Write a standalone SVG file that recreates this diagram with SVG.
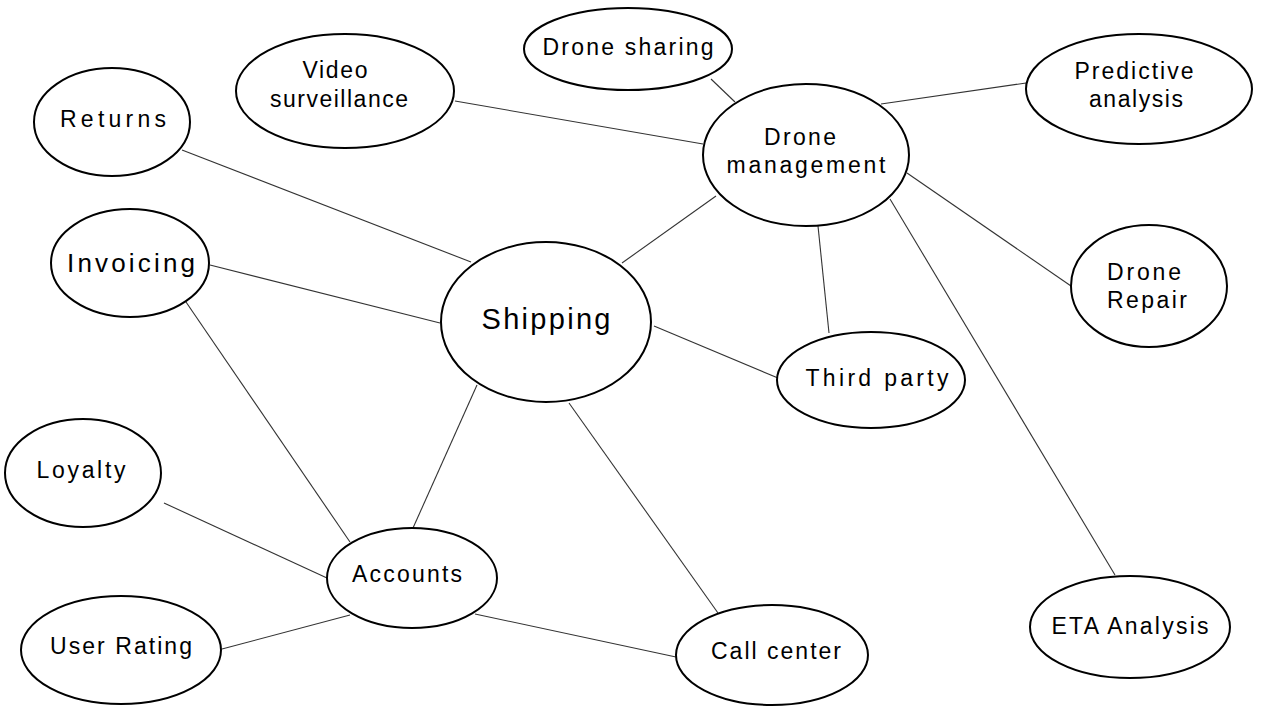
<svg xmlns="http://www.w3.org/2000/svg" width="1280" height="708" viewBox="0 0 1280 708">
<style>
.n{fill:#fff;stroke:#000;stroke-width:2}
.c line{stroke:#333;stroke-width:1.1}
text{font-family:"Liberation Sans","Open Sans",sans-serif;font-size:23px;fill:#000;text-anchor:middle}
.big{font-size:29px}
.mid{font-size:26px}
</style>
<rect width="1280" height="708" fill="#fff"/>
<g id="connectors" class="c">
<line x1="182" y1="150" x2="471" y2="262"/>
<line x1="210" y1="265" x2="440" y2="323"/>
<line x1="186" y1="302" x2="350" y2="542"/>
<line x1="455" y1="101" x2="703" y2="144"/>
<line x1="711" y1="79" x2="735" y2="102"/>
<line x1="881" y1="104" x2="1026" y2="83"/>
<line x1="907" y1="173" x2="1071" y2="286"/>
<line x1="716" y1="196" x2="622" y2="263"/>
<line x1="818" y1="226" x2="829" y2="333"/>
<line x1="890" y1="199" x2="1115" y2="575"/>
<line x1="654" y1="326" x2="778" y2="378"/>
<line x1="477" y1="385" x2="413" y2="528"/>
<line x1="569" y1="403" x2="718" y2="613"/>
<line x1="164" y1="503" x2="327" y2="578"/>
<line x1="222" y1="649" x2="350" y2="615"/>
<line x1="475" y1="614" x2="676" y2="657"/>
</g>
<g id="returns"><ellipse class="n" cx="112" cy="122" rx="78" ry="54"/><text x="113" y="127" textLength="106">Returns</text></g>
<g id="video-surveillance"><ellipse class="n" cx="345" cy="91" rx="109" ry="57"/><text x="335" y="78" textLength="65">Video</text><text x="339" y="107" textLength="138">surveillance</text></g>
<g id="drone-sharing"><ellipse class="n" cx="628" cy="49" rx="104" ry="41"/><text x="628" y="55" textLength="171">Drone sharing</text></g>
<g id="drone-management"><ellipse class="n" cx="806" cy="155" rx="103" ry="71"/><text x="800" y="145" textLength="72">Drone</text><text x="806" y="173" textLength="159">management</text></g>
<g id="predictive-analysis"><ellipse class="n" cx="1139" cy="89" rx="113" ry="55"/><text x="1134" y="79" textLength="119">Predictive</text><text x="1136" y="107" textLength="94">analysis</text></g>
<g id="invoicing"><ellipse class="n" cx="130" cy="263" rx="79" ry="54"/><text class="mid" x="131" y="272" textLength="128">Invoicing</text></g>
<g id="shipping"><ellipse class="n" cx="546" cy="322" rx="105" ry="80"/><text class="big" x="546" y="329" textLength="129">Shipping</text></g>
<g id="drone-repair"><ellipse class="n" cx="1149" cy="286" rx="78" ry="61"/><text x="1144" y="280" textLength="74">Drone</text><text x="1147" y="308" textLength="80">Repair</text></g>
<g id="third-party"><ellipse class="n" cx="871" cy="380" rx="94" ry="48"/><text x="877" y="386" textLength="143">Third party</text></g>
<g id="loyalty"><ellipse class="n" cx="83" cy="473" rx="78" ry="54"/><text x="81" y="478" textLength="89">Loyalty</text></g>
<g id="accounts"><ellipse class="n" cx="412" cy="578" rx="85" ry="50"/><text x="407" y="582" textLength="110">Accounts</text></g>
<g id="user-rating"><ellipse class="n" cx="121" cy="650" rx="100" ry="54"/><text x="121" y="654" textLength="142">User Rating</text></g>
<g id="call-center"><ellipse class="n" cx="772" cy="655" rx="96" ry="50"/><text x="776" y="659" textLength="130">Call center</text></g>
<g id="eta-analysis"><ellipse class="n" cx="1130" cy="627" rx="100" ry="51"/><text x="1130" y="634" textLength="157">ETA Analysis</text></g>
</svg>
